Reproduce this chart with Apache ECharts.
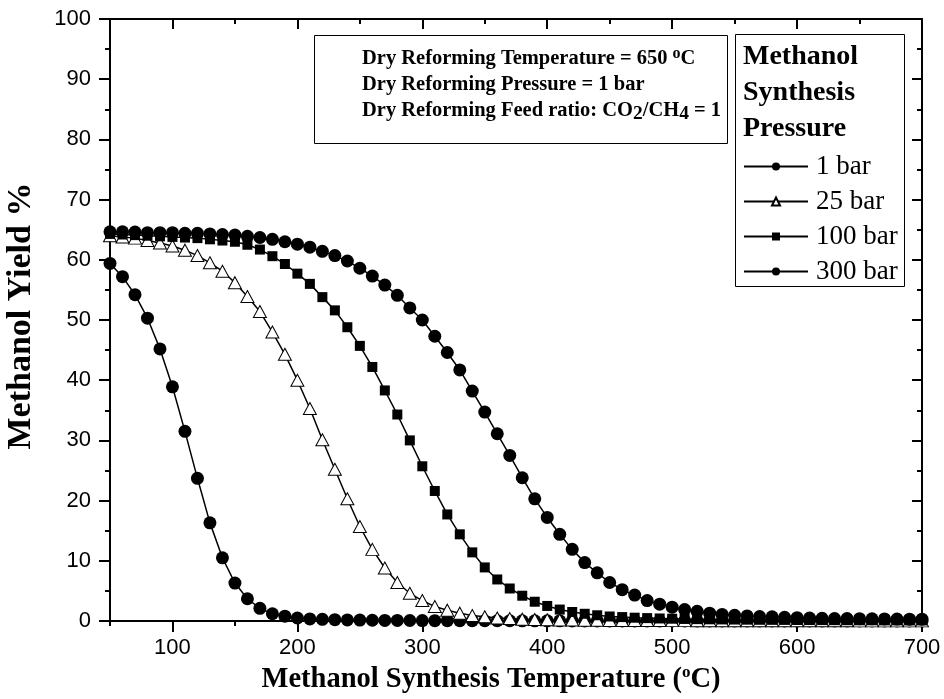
<!DOCTYPE html>
<html>
<head>
<meta charset="utf-8">
<title>Methanol yield vs synthesis temperature</title>
<script src="https://cdn.jsdelivr.net/npm/echarts@6/dist/echarts.min.js"></script>
<style>
  html, body { margin: 0; padding: 0; background: #fff; }
  #chart { width: 944px; height: 699px; }
</style>
</head>
<body>
<div id="chart"></div>
<script>
// Methanol synthesis temperature (°C)
const temperatures = [
  50, 60, 70, 80, 90, 100, 110, 120, 130, 140, 150, 160, 170, 180, 190, 200,
  210, 220, 230, 240, 250, 260, 270, 280, 290, 300, 310, 320, 330, 340, 350,
  360, 370, 380, 390, 400, 410, 420, 430, 440, 450, 460, 470, 480, 490, 500,
  510, 520, 530, 540, 550, 560, 570, 580, 590, 600, 610, 620, 630, 640, 650,
  660, 670, 680, 690, 700
];

// Methanol yield (%) at each synthesis pressure
const yield1bar = [
  59.4, 57.2, 54.2, 50.3, 45.2, 38.9, 31.5, 23.7, 16.3, 10.5, 6.3, 3.7, 2.1, 1.2, 0.8, 0.5,
  0.35, 0.28, 0.22, 0.18, 0.15, 0.12, 0.1, 0.09, 0.08, 0.07, 0.06, 0.06, 0.05, 0.05, 0.04,
  0.04, 0.04, 0.03, 0.03, 0.03, 0.03, 0.02, 0.02, 0.02, 0.02, 0.02, 0.02, 0.02, 0.02, 0.02,
  0.02, 0.02, 0.02, 0.02, 0.02, 0.02, 0.02, 0.02, 0.02, 0.02, 0.02, 0.02, 0.02, 0.02, 0.02,
  0.02, 0.02, 0.02, 0.02, 0.02
];
const yield25bar = [
  64.0, 63.8, 63.6, 63.2, 62.8, 62.3, 61.6, 60.7, 59.5, 58.1, 56.2, 53.9, 51.4, 48.0, 44.3, 40.0,
  35.3, 30.1, 25.2, 20.3, 15.7, 11.9, 8.8, 6.4, 4.6, 3.4, 2.4, 1.8, 1.3, 0.9, 0.7,
  0.5, 0.4, 0.3, 0.25, 0.2, 0.17, 0.15, 0.13, 0.11, 0.1, 0.09, 0.08, 0.07, 0.07, 0.06,
  0.06, 0.05, 0.05, 0.05, 0.04, 0.04, 0.04, 0.04, 0.03, 0.03, 0.03, 0.03, 0.03, 0.03, 0.02,
  0.02, 0.02, 0.02, 0.02, 0.02
];
const yield100bar = [
  64.3, 64.2, 64.1, 64.0, 63.9, 63.8, 63.7, 63.6, 63.4, 63.2, 63.0, 62.5, 61.7, 60.6, 59.3, 57.7,
  56.0, 53.8, 51.6, 48.8, 45.7, 42.2, 38.3, 34.3, 30.0, 25.7, 21.6, 17.7, 14.4, 11.4, 8.9,
  6.9, 5.4, 4.2, 3.2, 2.5, 1.9, 1.5, 1.2, 0.95, 0.75, 0.65, 0.55, 0.48, 0.42, 0.38,
  0.34, 0.31, 0.28, 0.26, 0.24, 0.22, 0.2, 0.19, 0.18, 0.17, 0.16, 0.15, 0.14, 0.13, 0.12,
  0.12, 0.11, 0.11, 0.1, 0.1
];
const yield300bar = [
  64.65, 64.65, 64.6, 64.5, 64.5, 64.5, 64.4, 64.4, 64.3, 64.2, 64.1, 63.9, 63.7, 63.4, 63.0, 62.6,
  62.1, 61.4, 60.7, 59.8, 58.6, 57.3, 55.8, 54.1, 52.0, 50.0, 47.3, 44.6, 41.7, 38.2, 34.7,
  31.1, 27.5, 23.8, 20.3, 17.2, 14.4, 11.9, 9.7, 8.0, 6.4, 5.2, 4.3, 3.4, 2.8, 2.3,
  1.9, 1.6, 1.3, 1.1, 0.95, 0.85, 0.75, 0.7, 0.62, 0.56, 0.5, 0.46, 0.42, 0.4, 0.38,
  0.36, 0.34, 0.32, 0.31, 0.3
];

const seriesNames = ['1 bar', '25 bar', '100 bar', '300 bar'];

// Tick positions on the temperature axis
const xMajorTicks = [100, 200, 300, 400, 500, 600, 700];
const xMinorTicks = [50, 150, 250, 350, 450, 550, 650];

const SERIF = '"Liberation Serif", "Times New Roman", Times, serif';
const SANS = '"Liberation Sans", Arial, Helvetica, sans-serif';
const BLACK = '#000';

function pairs(values) {
  return temperatures.map((t, i) => [t, values[i]]);
}

function xAxisDef(position, ticks, length, inside, withLabels, showLine) {
  return {
    type: 'value',
    position: position,
    min: 50,
    max: 700,
    axisLine: { show: showLine, onZero: false, lineStyle: { color: BLACK, width: 2 } },
    axisTick: { show: true, inside: inside, length: length, customValues: ticks,
                lineStyle: { color: BLACK, width: 2 } },
    axisLabel: withLabels
      ? { show: true, customValues: ticks, color: BLACK, fontFamily: SANS, fontSize: 22, margin: 16 }
      : { show: false },
    splitLine: { show: false }
  };
}

function yAxisDef(position, inside, majorLen, withLabels) {
  return {
    type: 'value',
    position: position,
    min: 0,
    max: 100,
    interval: 10,
    axisLine: { show: true, onZero: false, lineStyle: { color: BLACK, width: 2 } },
    axisTick: { show: true, inside: inside, length: majorLen, lineStyle: { color: BLACK, width: 2 } },
    minorTick: { show: true, splitNumber: 2, length: 5, lineStyle: { color: BLACK, width: 2 } },
    axisLabel: withLabels
      ? { show: true, color: BLACK, fontFamily: SANS, fontSize: 22, margin: 19 }
      : { show: false },
    splitLine: { show: false },
    minorSplitLine: { show: false }
  };
}

const lineStyle = { color: BLACK, width: 1.5 };

const series = [
  {
    name: seriesNames[0], type: 'line', data: pairs(yield1bar),
    symbol: 'circle', symbolSize: 13,
    itemStyle: { color: BLACK }, lineStyle: lineStyle
  },
  {
    name: seriesNames[1], type: 'line', data: pairs(yield25bar),
    symbol: 'triangle', symbolSize: [13, 12],
    itemStyle: { color: '#fff', borderColor: BLACK, borderWidth: 1 }, lineStyle: lineStyle
  },
  {
    name: seriesNames[2], type: 'line', data: pairs(yield100bar),
    symbol: 'rect', symbolSize: 10,
    itemStyle: { color: BLACK }, lineStyle: lineStyle
  },
  {
    name: seriesNames[3], type: 'line', data: pairs(yield300bar),
    symbol: 'circle', symbolSize: 13,
    itemStyle: { color: BLACK }, lineStyle: lineStyle
  }
].map(s => Object.assign(s, {
  xAxisIndex: 0, yAxisIndex: 0, showAllSymbol: true,
  emphasis: { disabled: true }, silent: true
}));

const chart = echarts.init(document.getElementById('chart'), null, { renderer: 'canvas' });

chart.setOption({
  animation: false,
  backgroundColor: '#fff',
  grid: { left: 110, right: 22, top: 19, bottom: 78, containLabel: false },
  xAxis: [
    xAxisDef('bottom', xMajorTicks, 11, false, true, true),
    xAxisDef('bottom', xMinorTicks, 5, false, false, false),
    xAxisDef('top', xMajorTicks, 10, true, false, true),
    xAxisDef('top', xMinorTicks, 5, true, false, false)
  ],
  yAxis: [
    yAxisDef('left', false, 11, true),
    yAxisDef('right', true, 10, false)
  ],
  legend: {
    data: seriesNames,
    orient: 'vertical',
    left: 743,
    top: 153,
    padding: 0,
    itemWidth: 64,
    itemHeight: 10,
    itemGap: 8,
    selectedMode: false,
    textStyle: { color: BLACK, fontFamily: SERIF, fontSize: 27, lineHeight: 27, padding: [0, 0, 0, 3] }
  },
  graphic: [
    // conditions box
    {
      type: 'rect', silent: true,
      shape: { x: 314.5, y: 35.5, width: 413, height: 108 },
      style: { fill: '#fff', stroke: BLACK, lineWidth: 1 }
    },
    {
      type: 'text', silent: true, x: 362, y: 46,
      style: {
        text: 'Dry Reforming Temperature = 650 {sup|o}C\n' +
              'Dry Reforming Pressure = 1 bar\n' +
              'Dry Reforming Feed ratio: CO{sub|2}/CH{sub|4} = 1',
        font: 'bold 20.5px ' + SERIF,
        fill: BLACK,
        lineHeight: 26,
        verticalAlign: 'top',
        rich: {
          sup: { font: 'bold 16px ' + SERIF, fill: BLACK, lineHeight: 12, verticalAlign: 'top' },
          sub: { font: 'bold 19.5px ' + SERIF, fill: BLACK, lineHeight: 18, verticalAlign: 'bottom' }
        }
      }
    },
    // legend frame and heading
    {
      type: 'rect', silent: true,
      shape: { x: 735.5, y: 34.5, width: 169, height: 252 },
      style: { fill: 'none', stroke: BLACK, lineWidth: 1 }
    },
    {
      type: 'text', silent: true, x: 743, y: 39,
      style: {
        text: 'Methanol\nSynthesis\nPressure',
        font: 'bold 28px ' + SERIF,
        fill: BLACK,
        lineHeight: 36,
        verticalAlign: 'top'
      }
    },
    // axis titles
    {
      type: 'text', silent: true, x: 491, y: 680,
      style: {
        text: 'Methanol Synthesis Temperature ({sup|o}C)',
        font: 'bold 28.5px ' + SERIF,
        fill: BLACK,
        lineHeight: 32,
        align: 'center',
        verticalAlign: 'middle',
        rich: {
          sup: { font: 'bold 17px ' + SERIF, fill: BLACK, lineHeight: 16, verticalAlign: 'top' }
        }
      }
    },
    {
      type: 'text', silent: true, x: 21, y: 316, rotation: Math.PI / 2,
      style: {
        text: 'Methanol Yield %',
        font: 'bold 34px ' + SERIF,
        fill: BLACK,
        align: 'center',
        verticalAlign: 'middle'
      }
    }
  ],
  series: series
});
</script>
</body>
</html>
